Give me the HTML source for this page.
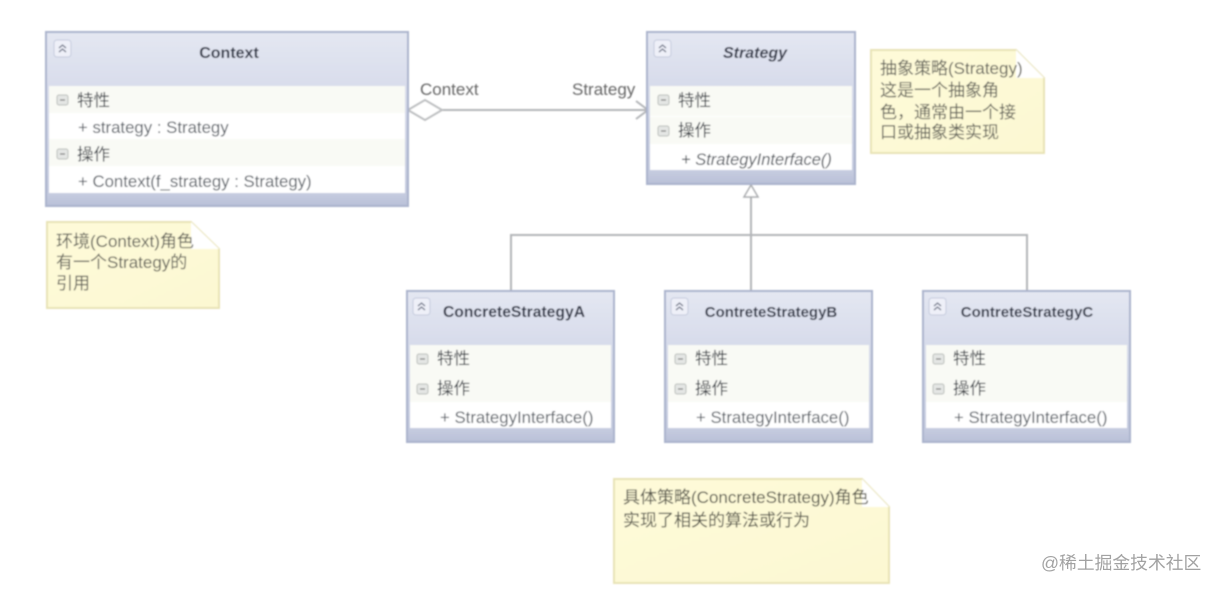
<!DOCTYPE html>
<html><head><meta charset="utf-8">
<style>
html,body{margin:0;padding:0;background:#fff;width:1220px;height:592px;overflow:hidden}
svg{display:block}
text{font-family:"Liberation Sans","Noto Sans CJK SC",sans-serif;font-size:14px;fill:#4a4f58}
.t{font-weight:bold;font-size:16px;fill:#333949;text-anchor:middle}
.s{font-size:16.500px;fill:#3a3f46}
.m{font-size:16.800px;fill:#585e66}
.n{font-size:17px;fill:#63635a}
.l{font-size:17px;fill:#666}
</style></head><body>
<svg width="1220" height="592" viewBox="0 0 1220 592" xmlns="http://www.w3.org/2000/svg">
<defs>
<linearGradient id="h" x1="0" y1="0" x2="0" y2="1"><stop offset="0" stop-color="#e4e7f2"/><stop offset="1" stop-color="#bfc6dc"/></linearGradient>
<linearGradient id="f" x1="0" y1="0" x2="0" y2="1"><stop offset="0" stop-color="#c6cce0"/><stop offset="1" stop-color="#bac1d8"/></linearGradient>
<linearGradient id="y" x1="0" y1="0" x2="1" y2="1"><stop offset="0" stop-color="#fefad9"/><stop offset="1" stop-color="#fcf8d2"/></linearGradient>
<filter id="b" x="-2%" y="-2%" width="104%" height="104%"><feGaussianBlur stdDeviation="0.700"/></filter>
<symbol id="c" overflow="visible">
<rect x="0" y="0" width="17" height="17" rx="3" fill="#eef0f8" stroke="#c5cbdd"/>
<path d="M5 8l3.500-3 3.500 3M5 12l3.500-3 3.500 3" fill="none" stroke="#666c80" stroke-width="1.200"/>
</symbol>
<symbol id="p" overflow="visible">
<rect x="0" y="0" width="11" height="10" rx="2" fill="#e4e6e4" stroke="#b9bdb9"/>
<path d="M3 5h5" stroke="#777" stroke-width="1.200"/>
</symbol>
</defs>
<g filter="url(#b)">
<!-- connectors -->
<g fill="none" stroke="#b3b5b8" stroke-width="2">
<path d="M441 110H647"/>
<path d="M636 101l12 9-12 9"/>
<path d="M751 197V290M511 290V235H1027V290"/>
</g>
<path d="M408 110l17-10 17 10-17 10z" fill="#fff" stroke="#bcbec0" stroke-width="2"/>
<path d="M751 185l-7 12h14z" fill="#fff" stroke="#a9abae" stroke-width="1.500"/>
<text class="l" x="420" y="95">Context</text>
<text class="l" x="572" y="95">Strategy</text>

<!-- Context -->
<rect x="46" y="32" width="362" height="174" fill="url(#h)" stroke="#aab3cc" stroke-width="2"/>
<rect x="49" y="86" width="356" height="107" fill="#fff"/>
<rect x="49" y="86" width="356" height="27" fill="#f9faf5"/>
<rect x="49" y="139" width="356" height="27" fill="#f9faf5"/>
<rect x="47" y="193" width="360" height="12" fill="url(#f)"/>
<use href="#c" x="54" y="40"/>
<text class="t" x="229" y="58">Context</text>
<use href="#p" x="57" y="95"/><text class="s" x="77" y="106">特性</text>
<text class="m" x="78" y="133">+ strategy : Strategy</text>
<use href="#p" x="57" y="149"/><text class="s" x="77" y="160">操作</text>
<text class="m" x="78" y="187">+ Context(f_strategy : Strategy)</text>

<!-- Strategy -->
<rect x="647" y="32" width="208" height="152" fill="url(#h)" stroke="#aab3cc" stroke-width="2"/>
<rect x="650" y="86" width="202" height="84" fill="#fff"/>
<rect x="650" y="86" width="202" height="30" fill="#f9faf5"/>
<rect x="650" y="117" width="202" height="27" fill="#f9faf5"/>
<rect x="648" y="170" width="206" height="13" fill="url(#f)"/>
<use href="#c" x="654" y="40"/>
<text class="t" x="755" y="58" style="font-style:italic">Strategy</text>
<use href="#p" x="658" y="95"/><text class="s" x="678" y="106">特性</text>
<use href="#p" x="658" y="126"/><text class="s" x="678" y="136">操作</text>
<text class="m" x="681" y="165" style="font-style:italic;fill:#4f545c;font-size:16.500px">+ StrategyInterface()</text>

<!-- Concrete A -->
<rect x="407" y="291" width="207" height="151" fill="url(#h)" stroke="#aab3cc" stroke-width="2"/>
<rect x="410" y="345" width="201" height="83" fill="#fff"/>
<rect x="410" y="345" width="201" height="30" fill="#f9faf5"/>
<rect x="410" y="375" width="201" height="27" fill="#f9faf5"/>
<rect x="408" y="428" width="205" height="13" fill="url(#f)"/>
<use href="#c" x="413" y="298"/>
<text class="t" x="514" y="317" style="font-size:15.700px">ConcreteStrategyA</text>
<use href="#p" x="417" y="354"/><text class="s" x="437" y="364">特性</text>
<use href="#p" x="417" y="384"/><text class="s" x="437" y="394">操作</text>
<text class="m" x="440" y="423">+ StrategyInterface()</text>

<!-- Concrete B -->
<rect x="665" y="291" width="207" height="151" fill="url(#h)" stroke="#aab3cc" stroke-width="2"/>
<rect x="668" y="345" width="201" height="83" fill="#fff"/>
<rect x="668" y="345" width="201" height="30" fill="#f9faf5"/>
<rect x="668" y="375" width="201" height="27" fill="#f9faf5"/>
<rect x="666" y="428" width="205" height="13" fill="url(#f)"/>
<use href="#c" x="671" y="298"/>
<text class="t" x="771" y="317" style="font-size:15px">ContreteStrategyB</text>
<use href="#p" x="675" y="354"/><text class="s" x="695" y="364">特性</text>
<use href="#p" x="675" y="384"/><text class="s" x="695" y="394">操作</text>
<text class="m" x="696" y="423">+ StrategyInterface()</text>

<!-- Concrete C -->
<rect x="923" y="291" width="207" height="151" fill="url(#h)" stroke="#aab3cc" stroke-width="2"/>
<rect x="926" y="345" width="201" height="83" fill="#fff"/>
<rect x="926" y="345" width="201" height="30" fill="#f9faf5"/>
<rect x="926" y="375" width="201" height="27" fill="#f9faf5"/>
<rect x="924" y="428" width="205" height="13" fill="url(#f)"/>
<use href="#c" x="929" y="298"/>
<text class="t" x="1027" y="317" style="font-size:15px">ContreteStrategyC</text>
<use href="#p" x="933" y="354"/><text class="s" x="953" y="364">特性</text>
<use href="#p" x="933" y="384"/><text class="s" x="953" y="394">操作</text>
<text class="m" x="954" y="423">+ StrategyInterface()</text>

<!-- Notes -->
<g stroke="#e8e3b6" stroke-width="2" fill="url(#y)">
<path d="M47 222H191L219 249V308H47z"/>
<path d="M871 50H1016L1044 78V153H871z"/>
<path d="M614 479H862L889 507V583H614z"/>
</g>
<g fill="#fff">
<path d="M191 222L219 249H191z"/>
<path d="M1016 50L1044 78H1016z"/>
<path d="M862 479L889 507H862z"/>
</g>
<text class="n" x="56" y="247">环境(Context)角色</text>
<text class="n" x="56" y="268">有一个Strategy的</text>
<text class="n" x="56" y="289">引用</text>
<text class="n" x="880" y="74">抽象策略(Strategy)</text>
<text class="n" x="880" y="96">这是一个抽象角</text>
<text class="n" x="880" y="118">色，通常由一个接</text>
<text class="n" x="880" y="138">口或抽象类实现</text>
<text class="n" x="623" y="503" style="fill:#55554a">具体策略(ConcreteStrategy)角色</text>
<text class="n" x="623" y="526" style="fill:#55554a">实现了相关的算法或行为</text>
</g>
<text x="1041" y="569" style="font-size:17.800px;fill:#a2a2a2">@稀土掘金技术社区</text>
</svg>
</body></html>
